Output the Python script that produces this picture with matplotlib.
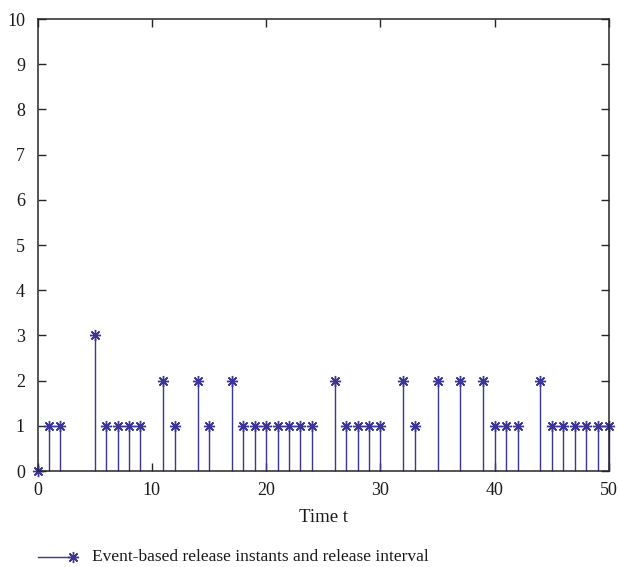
import matplotlib
matplotlib.use("Agg")
import matplotlib.pyplot as plt
from matplotlib.lines import Line2D

plt.rcParams['font.family'] = ['Liberation Serif', 'DejaVu Serif']

release_times = [0, 1, 2, 5, 6, 7, 8, 9, 11, 12, 14, 15, 17, 18, 19, 20, 21, 22, 23, 24,
                 26, 27, 28, 29, 30, 32, 33, 35, 37, 39, 40, 41, 42, 44, 45, 46, 47, 48, 49, 50]
release_intervals = [0, 1, 1, 3, 1, 1, 1, 1, 2, 1, 2, 1, 2, 1, 1, 1, 1, 1, 1, 1,
                     2, 1, 1, 1, 1, 2, 1, 2, 2, 2, 1, 1, 1, 2, 1, 1, 1, 1, 1, 1]
x_ticks = [0, 10, 20, 30, 40, 50]
y_ticks = list(range(0, 11))
legend_label = "Event-based release instants and release interval"
xlabel = "Time t"

color = '#3a3597'
axis_color = '#262626'
star = (8, 2, 0)

W, H = 618, 567
fig = plt.figure(figsize=(W / 100, H / 100), dpi=100)
ax = fig.add_axes([37.5 / W, (H - 471) / H, 571.5 / W, 452 / H])

markerline, stemlines, baseline = ax.stem(release_times, release_intervals, basefmt=' ')
plt.setp(stemlines, color=color, linewidth=1.0)
plt.setp(markerline, color=color, marker=star, markersize=8, markeredgewidth=1.0,
         markerfacecolor=color, markeredgecolor=color, clip_on=False)
stemlines.set_clip_on(False)

ax.set_xlim(0, 50)
ax.set_ylim(0, 10)
ax.set_xticks(x_ticks)
ax.set_yticks(y_ticks)
ax.tick_params(direction='in', top=True, right=True, labelsize=13, length=5.5,
               width=1.0, color=axis_color, labelcolor='#1a1a1a')
ax.tick_params(axis='x', pad=8)
ax.tick_params(axis='y', pad=9)
for s in ax.spines.values():
    s.set_linewidth(1.1)
    s.set_color(axis_color)
ax.set_xlabel(xlabel, fontsize=13.5, labelpad=7, color='#1a1a1a')

# legend drawn below the axes (line with marker at its right end)
ly = (H - 557) / H
fig.add_artist(Line2D([38 / W, 76 / W], [ly, ly], transform=fig.transFigure,
                      color=color, linewidth=1.0))
fig.add_artist(Line2D([73 / W], [ly], transform=fig.transFigure, color=color,
                      marker=star, markersize=8, markeredgewidth=1.0,
                      markeredgecolor=color, linestyle='none'))
fig.text(92 / W, ly, legend_label, fontsize=12.5, va='center', ha='left', color='#1a1a1a')

fig.savefig('out.png', dpi=100)
